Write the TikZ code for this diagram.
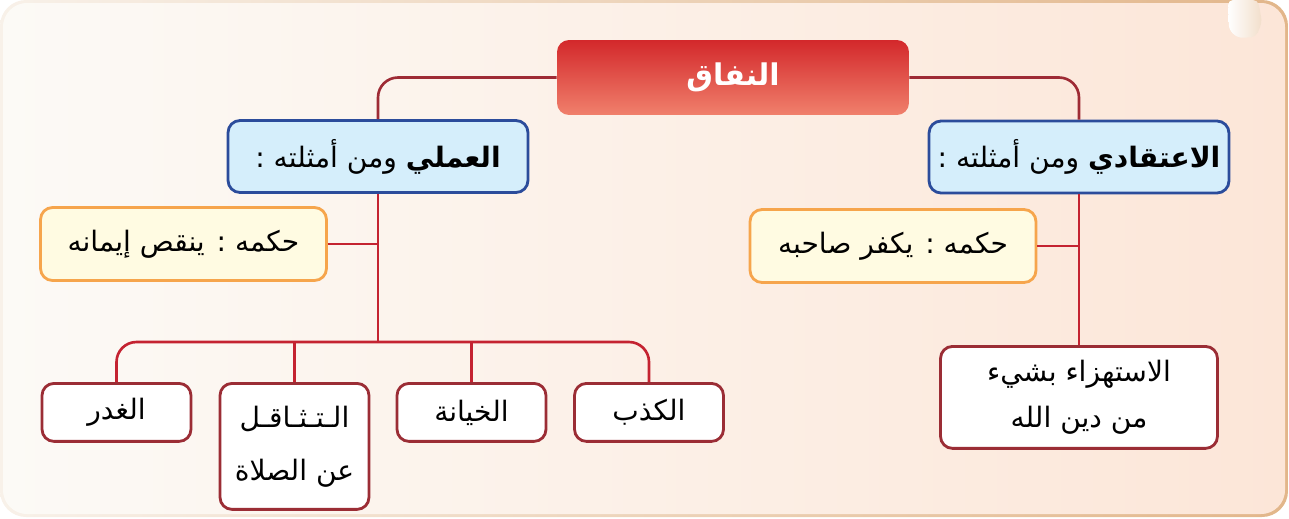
\documentclass[tikz,border=0pt]{standalone}
\usepackage{fontspec}
\setmainfont{DejaVu Sans}
\newfontfamily\arabicfont[Script=Arabic]{DejaVu Sans}
\TeXXeTstate=1
\newcommand{\rtl}[1]{\beginR #1\endR}

\definecolor{bgleft}{HTML}{FCFAF6}
\definecolor{bgright}{HTML}{FCE6D8}
\definecolor{frameleft}{HTML}{F8F1E9}
\definecolor{frameright}{HTML}{E2B68A}
\definecolor{titletop}{HTML}{D3282B}
\definecolor{titlebottom}{HTML}{F0806C}
\definecolor{kindfill}{HTML}{D5EEFB}
\definecolor{kindline}{HTML}{2B4C9B}
\definecolor{rulefill}{HTML}{FFFBE2}
\definecolor{ruleline}{HTML}{F6A54C}
\definecolor{exline}{HTML}{9B2D35}
\definecolor{topred}{HTML}{9E2B35}
\definecolor{treered}{HTML}{C42331}

\begin{document}
\begin{tikzpicture}[x=0.02cm, y=-0.02cm,
    every node/.style={font=\arabicfont\fontsize{16}{24}\selectfont, inner sep=0pt, align=center},
    title/.style={rounded corners=0.24cm, top color=titletop, bottom color=titlebottom, text=white,
        minimum width=7.04cm, minimum height=1.5cm, font=\arabicfont\bfseries\fontsize{17}{24}\selectfont},
    kind/.style={draw=kindline, fill=kindfill, line width=1.6pt, rounded corners=0.24cm,
        minimum width=6cm, minimum height=1.44cm},
    rulebox/.style={draw=ruleline, fill=rulefill, line width=1.6pt, rounded corners=0.24cm,
        minimum width=5.72cm, minimum height=1.46cm},
    ex/.style={draw=exline, fill=white, line width=1.6pt, rounded corners=0.24cm, anchor=north,
        minimum width=2.98cm, minimum height=1.16cm},
    topline/.style={draw=topred, line width=1.5pt, rounded corners=0.4cm},
    treeline/.style={draw=treered, line width=1.5pt, rounded corners=0.4cm}]
    \useasboundingbox (0,0) rectangle (1289,518);

    % background and frame
    \shade[left color=frameleft, right color=frameright, even odd rule, rounded corners=0.52cm]
        (0,0) rectangle (1288,517) (3,3) rectangle (1285,514);
    \shade[left color=bgleft, right color=bgright, rounded corners=0.48cm] (3,3) rectangle (1285,514);
    \shade[left color=white, right color=frameright!45, rounded corners=0.1cm]
        (1228,0) -- (1229,30) -- (1238,38) -- (1256,37) -- (1262,22) -- (1258,0) -- cycle;

    % top
    \node[title] (title) at (733,77.5) {\rtl{النفاق}};
    \node[kind] (kind-amali) at (378,156.5) {\rtl{\textbf{العملي} ومن أمثلته :}};
    \node[kind] (kind-itiqadi) at (1079,157) {\rtl{\textbf{الاعتقادي} ومن أمثلته :}};

    % rulings
    \node[rulebox] (rule-amali) at (183.5,244) {\rtl{حكمه : ينقص إيمانه}};
    \node[rulebox] (rule-itiqadi) at (893,246) {\rtl{حكمه : يكفر صاحبه}};

    % examples
    \node[ex] (ex-1) at (116.5,382) {\rtl{الغدر}};
    \node[ex, minimum height=2.52cm] (ex-2) at (294.5,382) {\rtl{الـتـثـاقـل}\\[6pt]\rtl{عن الصلاة}};
    \node[ex] (ex-3) at (471.5,382) {\rtl{الخيانة}};
    \node[ex] (ex-4) at (649,382) {\rtl{الكذب}};
    \node[ex, minimum width=5.54cm, minimum height=2.04cm] (ex-5) at (1079,345) {\rtl{الاستهزاء بشيء}\\[2pt]\rtl{من دين الله}};

    \coordinate (bus) at (378,342);

    % connectors
    \draw[topline] (title.west) -| (kind-amali.north);
    \draw[topline] (title.east) -| (kind-itiqadi.north);
    \draw[treeline] (kind-amali.south) -- (bus);
    \draw[treeline] (rule-amali.east) -- (rule-amali.east -| bus);
    \draw[treeline] (ex-1.north) |- (bus) -| (ex-4.north);
    \draw[treeline] (ex-2.north) -- (ex-2.north |- bus);
    \draw[treeline] (ex-3.north) -- (ex-3.north |- bus);
    \draw[treeline] (kind-itiqadi.south) -- (ex-5.north);
    \draw[treeline] (rule-itiqadi.east) -- (rule-itiqadi.east -| kind-itiqadi.south);

\end{tikzpicture}
\end{document}
